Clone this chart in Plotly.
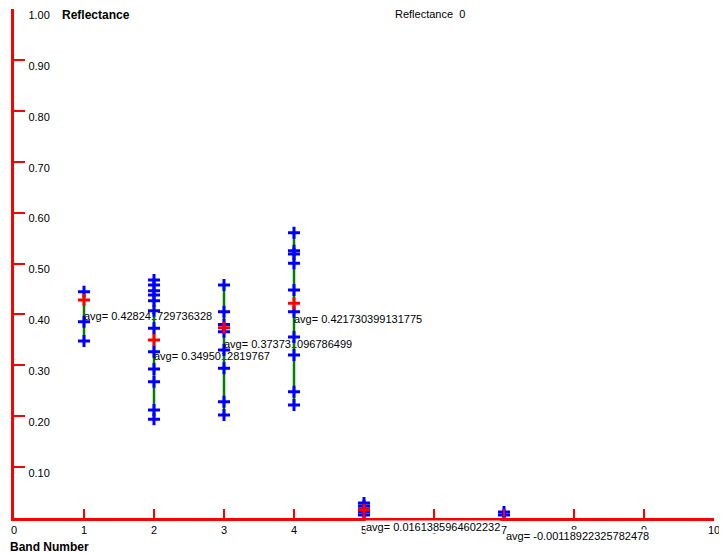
import plotly.graph_objects as go

# ---- data ----
bands = [1, 2, 3, 4, 5, 7]
band1_values = [0.4446, 0.3857, 0.3477]
band2_values = [0.4676, 0.4578, 0.4466, 0.4381, 0.4269, 0.4073, 0.3727,
                0.3267, 0.2927, 0.2678, 0.2122, 0.1939]
band3_values = [0.4578, 0.4053, 0.3800, 0.3660, 0.3301, 0.2941, 0.2285, 0.2024]
band4_values = [0.5605, 0.5252, 0.5187, 0.5004, 0.4479, 0.4054, 0.3556,
                0.3202, 0.2481, 0.2220]
band5_values = [0.0295, 0.0236, 0.0177, 0.0118, 0.0059]
band7_values = [0.0118, 0.0059, -0.0020, -0.0079]
avg_values = [0.428241729736328, 0.3495012819767, 0.373731096786499,
              0.421730399131775, 0.0161385964602232, -0.00118922325782478]
x_ticks = list(range(0, 11))
y_ticks = [0.1, 0.2, 0.3, 0.4, 0.5, 0.6, 0.7, 0.8, 0.9, 1.0]
title_text = "Reflectance  0"
y_title = "Reflectance"
x_title = "Band Number"

all_values = [band1_values, band2_values, band3_values, band4_values,
              band5_values, band7_values]

# The page body has an 8px margin, so the figure is offset by 8px.
OFF = 8
W, H = 727 - OFF, 553 - OFF
M = dict(l=14 - OFF, r=13, t=9 - OFF, b=35)
plot_h = H - M["t"] - M["b"]
plot_w = W - M["l"] - M["r"]
Y_RANGE = [0, 1.000001]
X_RANGE = [0, 10]
label_dy_px = 17
dy = label_dy_px / plot_h * (Y_RANGE[1] - Y_RANGE[0])

FONT = "Liberation Sans, Arial, sans-serif"
RED = "#FF0000"
BLUE = "#0000FF"
GREEN = "#008000"


def px_to_paper(xp, yp):
    # xp, yp in page pixels
    xp -= OFF
    yp -= OFF
    return (xp - M["l"]) / plot_w, (H - yp - M["b"]) / plot_h


fig = go.Figure()
annotations = []
for b, vals, avg in zip(bands, all_values, avg_values):
    lo, hi = min(vals), max(vals)
    fig.add_trace(go.Scatter(x=[b, b], y=[lo, hi], mode="lines",
                             line=dict(color=GREEN, width=2.5),
                             cliponaxis=False, hoverinfo="skip"))
    fig.add_trace(go.Scatter(x=[b] * len(vals), y=vals, mode="markers",
                             marker=dict(symbol="cross-thin", size=8.6,
                                         line=dict(color=BLUE, width=3)),
                             cliponaxis=False))
    fig.add_trace(go.Scatter(x=[b], y=[avg], mode="markers",
                             marker=dict(symbol="cross-thin", size=8.6,
                                         line=dict(color=RED, width=3)),
                             cliponaxis=False))
    label = "avg= " + repr(avg)
    if avg > 0.1:
        fig.add_trace(go.Scatter(x=[b], y=[avg - dy], mode="text", text=[label],
                                 textposition="middle right",
                                 textfont=dict(family=FONT, size=11, color="black"),
                                 cliponaxis=False))
    else:
        # paper coordinates so labels just below the axis are still drawn
        yp = (avg - Y_RANGE[0]) / (Y_RANGE[1] - Y_RANGE[0])
        annotations.append(dict(x=b, y=yp, xref="x", yref="paper", text=label,
                                showarrow=False, xanchor="left", yanchor="middle",
                                yshift=-label_dy_px, xshift=1,
                                bgcolor="white", borderpad=0,
                                font=dict(family=FONT, size=11, color="black")))

for txt, xp, yp, anchor, size in [("<b>%s</b>" % y_title, 60, 15.5, "left", 12),
                                  ("<b>%s</b>" % x_title, 8, 547, "left", 12),
                                  (title_text, 430, 13.5, "center", 11)]:
    px_, py_ = px_to_paper(xp, yp)
    annotations.append(dict(x=px_, y=py_, xref="paper", yref="paper", text=txt,
                            showarrow=False, xanchor=anchor, yanchor="middle",
                            font=dict(family=FONT, size=size, color="black")))

fig.update_layout(
    width=W, height=H, margin=M,
    paper_bgcolor="white", plot_bgcolor="white",
    showlegend=False,
    font=dict(family=FONT, size=11, color="black"),
    annotations=annotations,
    xaxis=dict(range=X_RANGE, tickvals=x_ticks, ticktext=[str(t) for t in x_ticks],
               ticks="inside", ticklen=9, tickwidth=2, tickcolor=RED,
               showline=True, linecolor=RED, linewidth=3,
               showgrid=False, zeroline=False, automargin=False,
               tickfont=dict(family=FONT, size=11, color="black")),
    yaxis=dict(range=Y_RANGE, tickvals=y_ticks, ticktext=["%.2f" % t for t in y_ticks],
               ticks="inside", ticklen=11, tickwidth=2, tickcolor=RED,
               ticklabelposition="outside", ticklabelstandoff=-41,
               ticklabelshift=6,
               showline=True, linecolor=RED, linewidth=3,
               showgrid=False, zeroline=False, automargin=False,
               tickfont=dict(family=FONT, size=11, color="black")),
)

fig.write_html("out.html")
